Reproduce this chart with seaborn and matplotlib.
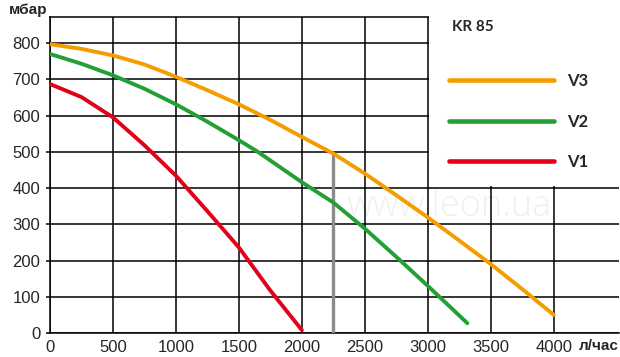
import matplotlib
matplotlib.use("Agg")
import matplotlib.pyplot as plt
import numpy as np
import pandas as pd
import seaborn as sns
from matplotlib.patches import Rectangle

# values
v3_flow = [0, 250, 500, 750, 1000, 1250, 1500, 1750, 2000, 2250, 2500, 2750, 3000, 3250, 3500, 3750, 4000]
v3_pres = [797, 784, 766, 741, 707, 670, 631, 588, 541, 495, 440, 380, 319, 255, 190, 121, 50]
v2_flow = [0, 250, 500, 750, 1000, 1250, 1500, 1650, 2000, 2250, 2500, 2750, 3000, 3314]
v2_pres = [770, 743, 711, 674, 631, 583, 532, 500, 416, 360, 288, 210, 130, 27]
v1_flow = [0, 250, 500, 750, 1000, 1250, 1500, 1750, 2000]
v1_pres = [687, 651, 595, 518, 434, 336, 236, 117, 8]
duty_flow = 2250
duty_pres = 495
x_ticks = [0, 500, 1000, 1500, 2000, 2500, 3000, 3500, 4000]
y_ticks = [0, 100, 200, 300, 400, 500, 600, 700, 800]
series_names = ["V3", "V2", "V1"]
colors = {"V3": "#f59c00", "V2": "#22a036", "V1": "#e2001a"}


def main():
    sns.set_style("white")
    plt.rcParams['font.family'] = ['Liberation Sans', 'DejaVu Sans']

    frames = []
    for name, fx, fy in zip(series_names, [v3_flow, v2_flow, v1_flow], [v3_pres, v2_pres, v1_pres]):
        frames.append(pd.DataFrame({"flow": fx, "pres": fy, "speed": name}))
    df = pd.concat(frames, ignore_index=True)

    fig = plt.figure(figsize=(6.2, 3.57), dpi=100)
    ax = fig.add_axes([50 / 620, 24 / 357, 569 / 620, 316 / 357])

    sns.lineplot(data=df, x="flow", y="pres", hue="speed", hue_order=series_names,
                 palette=colors, estimator=None, sort=False, linewidth=2.8, ax=ax, zorder=3)
    for line in ax.get_lines():
        line.set_solid_joinstyle("round")

    ax.plot([duty_flow, duty_flow], [0, duty_pres], color="#8c8c8c", linewidth=2.4, zorder=2.8)

    ax.set_xlim(0, 4518)
    ax.set_ylim(0, 872)
    ax.set_xticks(x_ticks)
    ax.set_yticks(y_ticks)
    ax.grid(True, color="black", linewidth=1.1)
    ax.set_axisbelow(True)
    for side in ["left", "bottom", "top"]:
        ax.spines[side].set_color("black")
        ax.spines[side].set_linewidth(1.1)
    ax.spines["right"].set_visible(False)
    ax.tick_params(axis="y", length=3, width=1.1, color="black", labelsize=12, pad=4, left=True)
    ax.tick_params(axis="x", length=0, labelsize=12, pad=5)
    ax.set_xlabel("")
    ax.set_ylabel("")

    # white panel behind the legend
    ax.add_patch(Rectangle((3010, 407), 1600, 500, facecolor="white", edgecolor="none",
                           zorder=2.6, clip_on=False))

    # faint watermark
    ax.text(2352, 324, "www.leon.ua", fontsize=26, color="#f0f0f0", family="Open Sans",
            fontweight="light", va="baseline", ha="left", zorder=0.5)

    handles, labels = ax.get_legend_handles_labels()
    for h in handles:
        h.set_linewidth(3.3)
    leg = ax.legend(handles, labels, loc="upper left", bbox_to_anchor=(384 / 569, 0.8695),
                    frameon=False, handlelength=6.3, handletextpad=0.8, labelspacing=1.46,
                    prop={"family": "Lato", "weight": "bold", "size": 12})
    leg.set_zorder(4)

    fig.text(452 / 620, 1 - 27 / 357, "KR 85", family="Lato", fontweight="bold",
             fontsize=11, va="center", ha="left")
    fig.text(9 / 620, 1 - 10 / 357, "мбар", fontweight="bold", fontsize=11,
             va="center", ha="left")
    fig.text(579 / 620, 1 - 346 / 357, "л/час", fontweight="bold", fontsize=11,
             va="center", ha="left")

    plt.savefig("out.png", dpi=100)


if __name__ == "__main__":
    main()
